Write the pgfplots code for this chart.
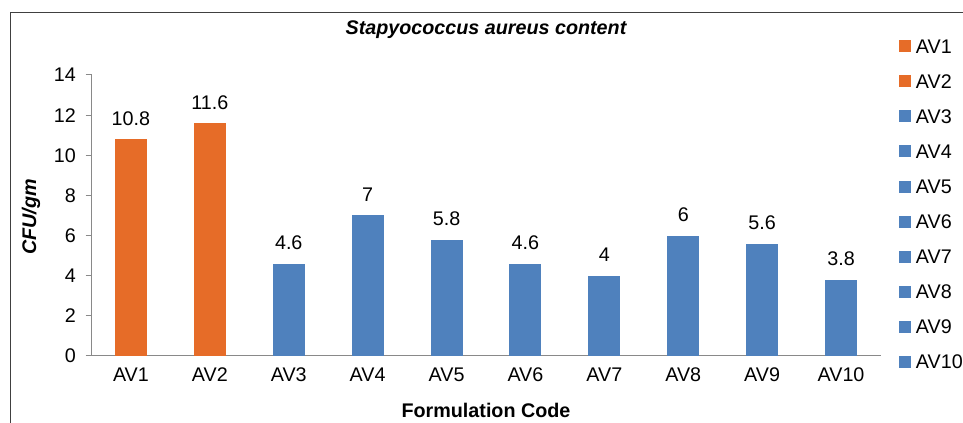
\documentclass[border=0pt]{standalone}
\usepackage{pgfplots}
\pgfplotsset{compat=1.18}
\usepackage{fontspec}
\setmainfont{Liberation Sans}
\definecolor{cOr}{HTML}{E66C28}
\definecolor{cBl}{HTML}{4F81BD}
\definecolor{axgray}{HTML}{898989}
\definecolor{framec}{HTML}{404040}
\pgfplotsset{sqleg/.style={legend image code/.code={\fill[##1] (0pt,-4.5pt) rectangle (9pt,4.5pt);}}}
\begin{document}
\fontsize{14.8pt}{17pt}\selectfont
\begin{tikzpicture}
\useasboundingbox (0,0) rectangle (722.25pt,317.25pt);
\draw[framec, line width=0.75pt] (7.5pt,-2pt) -- (7.5pt,307.5pt) -- (725pt,307.5pt);
\begin{axis}[
  at={(68.625pt,50.25pt)}, anchor=south west,
  scale only axis, width=591.75pt, height=210.75pt,
  xmin=-0.5, xmax=9.5, ymin=0, ymax=14,
  axis x line*=bottom, axis y line*=left,
  axis line style={axgray, line width=0.75pt, -},
  ybar, bar width=24pt,
  ytick={0,2,...,14},
  xtick={0,...,9},
  xticklabels={AV1,AV2,AV3,AV4,AV5,AV6,AV7,AV8,AV9,AV10},
  tick align=outside,
  major tick length=4.5pt,
  xtick style={draw=none},
  ytick style={axgray, line width=0.75pt},
  /pgf/number format/assume math mode=true,
  yticklabel style={anchor=east, inner sep=0pt, xshift=-7.1pt},
  xticklabel style={anchor=base, inner sep=0pt, yshift=-15pt},
  title={Stapyococcus aureus content},
  title style={font=\bfseries\itshape, at={(axis description cs:0.5,1.1174)}, anchor=base, inner sep=0pt},
  xlabel={Formulation Code},
  xlabel style={font=\bfseries, at={(axis description cs:0.5,-0.2171)}, anchor=base, inner sep=0pt},
  ylabel={CFU/gm},
  ylabel style={font=\bfseries\itshape, at={(axis description cs:-0.0703,0.4947)}, anchor=base, inner sep=0pt},
  nodes near coords,
  every node near coord/.append style={anchor=base, inner sep=0pt, yshift=10.5pt, black},
  legend style={at={(axis description cs:1.0234,1.1274)}, anchor=north west, draw=none, fill=none,
    inner sep=0pt, outer sep=0pt, row sep=15.7pt, column sep=3.75pt,
    nodes={inner sep=0pt, text height=10.6pt, text depth=0pt}},
  legend cell align=left,
]
\addplot[sqleg, fill=cOr, draw=none, bar shift=0pt] coordinates {(0,10.8)};
\addlegendentry{AV1}
\addplot[sqleg, fill=cOr, draw=none, bar shift=0pt] coordinates {(1,11.6)};
\addlegendentry{AV2}
\addplot[sqleg, fill=cBl, draw=none, bar shift=0pt] coordinates {(2,4.6)};
\addlegendentry{AV3}
\addplot[sqleg, fill=cBl, draw=none, bar shift=0pt] coordinates {(3,7)};
\addlegendentry{AV4}
\addplot[sqleg, fill=cBl, draw=none, bar shift=0pt] coordinates {(4,5.8)};
\addlegendentry{AV5}
\addplot[sqleg, fill=cBl, draw=none, bar shift=0pt] coordinates {(5,4.6)};
\addlegendentry{AV6}
\addplot[sqleg, fill=cBl, draw=none, bar shift=0pt] coordinates {(6,4)};
\addlegendentry{AV7}
\addplot[sqleg, fill=cBl, draw=none, bar shift=0pt] coordinates {(7,6)};
\addlegendentry{AV8}
\addplot[sqleg, fill=cBl, draw=none, bar shift=0pt] coordinates {(8,5.6)};
\addlegendentry{AV9}
\addplot[sqleg, fill=cBl, draw=none, bar shift=0pt] coordinates {(9,3.8)};
\addlegendentry{AV10}
\end{axis}
\end{tikzpicture}
\end{document}
